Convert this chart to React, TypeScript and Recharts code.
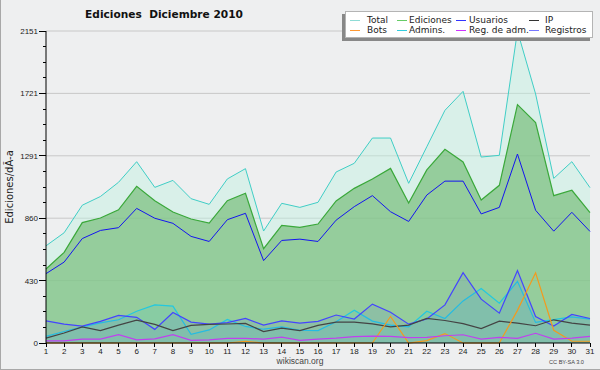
import { Area, CartesianGrid, ComposedChart, Legend, Line, XAxis, YAxis } from "recharts";

const days = [1, 2, 3, 4, 5, 6, 7, 8, 9, 10, 11, 12, 13, 14, 15, 16, 17, 18, 19, 20, 21, 22, 23, 24, 25, 26, 27, 28, 29, 30, 31];

const total = [670, 760, 950, 1010, 1108, 1250, 1073, 1121, 995, 956, 1131, 1202, 772, 963, 935, 970, 1179, 1239, 1413, 1413, 1101, 1353, 1604, 1735, 1282, 1294, 2151, 1717, 1135, 1250, 1071];
const ediciones = [510, 625, 830, 862, 918, 1080, 981, 903, 855, 827, 981, 1032, 650, 811, 797, 820, 979, 1066, 1131, 1204, 965, 1193, 1335, 1248, 986, 1087, 1643, 1519, 1016, 1053, 898];
const usuarios = [478, 558, 720, 776, 795, 928, 860, 825, 735, 700, 850, 894, 568, 707, 716, 700, 847, 940, 1016, 905, 838, 1020, 1116, 1116, 890, 935, 1303, 915, 771, 901, 769];
const ip = [34, 69, 111, 86, 123, 158, 128, 86, 121, 128, 131, 135, 79, 102, 86, 121, 144, 144, 132, 111, 123, 169, 155, 134, 100, 151, 137, 119, 160, 137, 123];
const bots = [0, 0, 0, 0, 0, 0, 0, 0, 0, 0, 0, 12, 0, 0, 0, 0, 0, 0, 0, 183, 0, 16, 65, 0, 0, 0, 225, 484, 88, 12, 12];
const admins = [46, 79, 111, 139, 160, 219, 263, 254, 60, 90, 162, 114, 95, 111, 88, 86, 146, 226, 151, 123, 111, 219, 169, 290, 375, 274, 425, 142, 161, 180, 165];
const regAdm = [15, 15, 27, 27, 58, 22, 29, 58, 18, 22, 32, 32, 27, 41, 18, 27, 34, 44, 48, 46, 37, 39, 50, 57, 27, 39, 32, 67, 27, 34, 46];
const registros = [152, 130, 116, 149, 190, 177, 94, 210, 144, 130, 140, 170, 123, 153, 137, 149, 193, 165, 268, 212, 130, 165, 263, 485, 302, 206, 499, 183, 117, 197, 169];

const Y_MAX = 2151;
const yTickLabels = ["0", "430", "860", "1291", "1721", "2151"];
// 4 minor steps between labelled ticks
const yTicks = Array.from({ length: 21 }, (_, i) => (Y_MAX * i) / 20);
const gridValues = yTicks.filter((_, i) => i > 0 && i % 4 === 0);

const data = days.map((d, i) => ({
  day: d,
  total: total[i],
  ediciones: ediciones[i],
  usuarios: usuarios[i],
  ip: ip[i],
  bots: bots[i],
  admins: admins[i],
  regAdm: regAdm[i],
  registros: registros[i],
}));

const legendItems = [
  { name: "Total", color: "#8fdcd6" },
  { name: "Ediciones", color: "#66cc66" },
  { name: "Usuarios", color: "#3333ff" },
  { name: "IP", color: "#333333" },
  { name: "Bots", color: "#ff9933" },
  { name: "Admins.", color: "#33ccdd" },
  { name: "Reg. de adm.", color: "#cc33ff" },
  { name: "Registros", color: "#7777ff" },
];
const legendCols = [
  { line: 4, text: 21 },
  { line: 51, text: 63 },
  { line: 110, text: 123 },
  { line: 183, text: 199 },
];

const SANS = "'DejaVu Sans', Verdana, sans-serif";
const SMALL = "'Liberation Sans', Arial, sans-serif";

const YTick = (props: any) => {
  const { x, y, index } = props;
  const major = index % 4 === 0;
  return (
    <g>
      <line x1={x - (major ? 7 : 3)} x2={x} y1={y} y2={y} stroke="#000" shapeRendering="crispEdges" />
      {major && (
        <text x={x - 8} y={y} dy={3} textAnchor="end" fontSize={8} fontFamily={SMALL} fill="#222">
          {yTickLabels[index / 4]}
        </text>
      )}
    </g>
  );
};

const XTick = (props: any) => {
  const { x, y, payload } = props;
  return (
    <g>
      <line x1={x} x2={x} y1={y} y2={y + 4} stroke="#000" shapeRendering="crispEdges" />
      <text x={x} y={y + 11} textAnchor="middle" fontSize={8} fontFamily={SMALL} fill="#222">
        {payload.value}
      </text>
    </g>
  );
};

const LegendBox = () => (
  <div
    style={{
      position: "absolute",
      left: 345,
      top: 11,
      width: 248,
      height: 27,
      boxSizing: "border-box",
      background: "#fff",
      border: "1px solid #b4b4b4",
      boxShadow: "-3px 3px 0 #888",
      fontFamily: SANS,
      fontSize: 9,
      color: "#222",
    }}
  >
    {legendItems.map((it, i) => {
      const col = legendCols[i % 4];
      const top = i < 4 ? 2 : 12;
      return (
        <div key={it.name}>
          <div style={{ position: "absolute", left: col.line, top: top + 6, width: 10, height: 1, background: it.color }} />
          <div style={{ position: "absolute", left: col.text, top, lineHeight: "12px", whiteSpace: "nowrap" }}>{it.name}</div>
        </div>
      );
    })}
  </div>
);

export default function App() {
  return (
    <div style={{ position: "absolute", left: 0, top: 0, width: 600, height: 370, background: "#eeeff0", overflow: "hidden" }}>
      <div
        style={{
          position: "absolute",
          left: 64,
          top: 8,
          width: 200,
          textAlign: "center",
          fontFamily: SANS,
          fontWeight: "bold",
          fontSize: 10.6,
          color: "#111",
          whiteSpace: "pre",
        }}
      >
        {"Ediciones  Diciembre 2010"}
      </div>
      <ComposedChart width={600} height={370} data={data} margin={{ top: 31, right: 10, bottom: 0, left: 0 }}>
        <CartesianGrid vertical={false} stroke="#c8c8c8" horizontalValues={gridValues} />
        <XAxis
          dataKey="day"
          type="number"
          domain={[1, 31]}
          ticks={days}
          interval={0}
          height={27}
          tickSize={0}
          tickMargin={0}
          tickLine={false}
          axisLine={{ stroke: "#000" }}
          tick={<XTick />}
        />
        <YAxis
          type="number"
          domain={[0, Y_MAX]}
          ticks={yTicks}
          interval={0}
          width={46}
          tickSize={0}
          tickMargin={0}
          tickLine={false}
          axisLine={{ stroke: "#000" }}
          tick={<YTick />}
          label={{
            content: () => (
              <text x={13} y={187} transform="rotate(-90 13 187)" textAnchor="middle" fontSize={10} fontFamily={SANS} fill="#222">
                Ediciones/dÃ-a
              </text>
            ),
          }}
        />
        <Area type="linear" dataKey="total" stroke="#40cec6" strokeWidth={1} fill="#bef1e1" fillOpacity={0.45} isAnimationActive={false} dot={false} activeDot={false} />
        <Area type="linear" dataKey="ediciones" stroke="#3aa83a" strokeWidth={1.2} fill="#74bc78" fillOpacity={0.68} isAnimationActive={false} dot={false} activeDot={false} />
        <Line type="linear" dataKey="usuarios" stroke="#1414f0" strokeWidth={1} isAnimationActive={false} dot={false} activeDot={false} />
        <Line type="linear" dataKey="ip" stroke="#444444" strokeWidth={1.2} isAnimationActive={false} dot={false} activeDot={false} />
        <Line type="linear" dataKey="bots" stroke="#f39a1e" strokeWidth={1.2} isAnimationActive={false} dot={false} activeDot={false} />
        <Area type="linear" dataKey="admins" stroke="#22c8e0" strokeWidth={1.2} fill="#22c8e0" fillOpacity={0.1} isAnimationActive={false} dot={false} activeDot={false} />
        <Line type="linear" dataKey="regAdm" stroke="#c040f0" strokeWidth={1.2} isAnimationActive={false} dot={false} activeDot={false} />
        <Area type="linear" dataKey="registros" stroke="#4444ff" strokeWidth={1.2} fill="#4444ff" fillOpacity={0.09} isAnimationActive={false} dot={false} activeDot={false} />
        <Legend content={() => <LegendBox />} wrapperStyle={{ position: "absolute", left: 0, top: 0, width: 0, height: 0 }} />
      </ComposedChart>
      <div style={{ position: "absolute", left: 250, width: 100, top: 356, textAlign: "center", fontFamily: SMALL, fontSize: 8.5, color: "#444" }}>
        wikiscan.org
      </div>
      <div style={{ position: "absolute", left: 549, top: 359, fontFamily: SMALL, fontSize: 5.6, color: "#444", whiteSpace: "nowrap" }}>
        CC BY-SA 3.0
      </div>
      <div style={{ position: "absolute", left: 0, top: 0, width: 1, height: 370, background: "#a8a8a8" }} />
      <div style={{ position: "absolute", left: 0, top: 369, width: 600, height: 1, background: "#a8a8a8" }} />
    </div>
  );
}
